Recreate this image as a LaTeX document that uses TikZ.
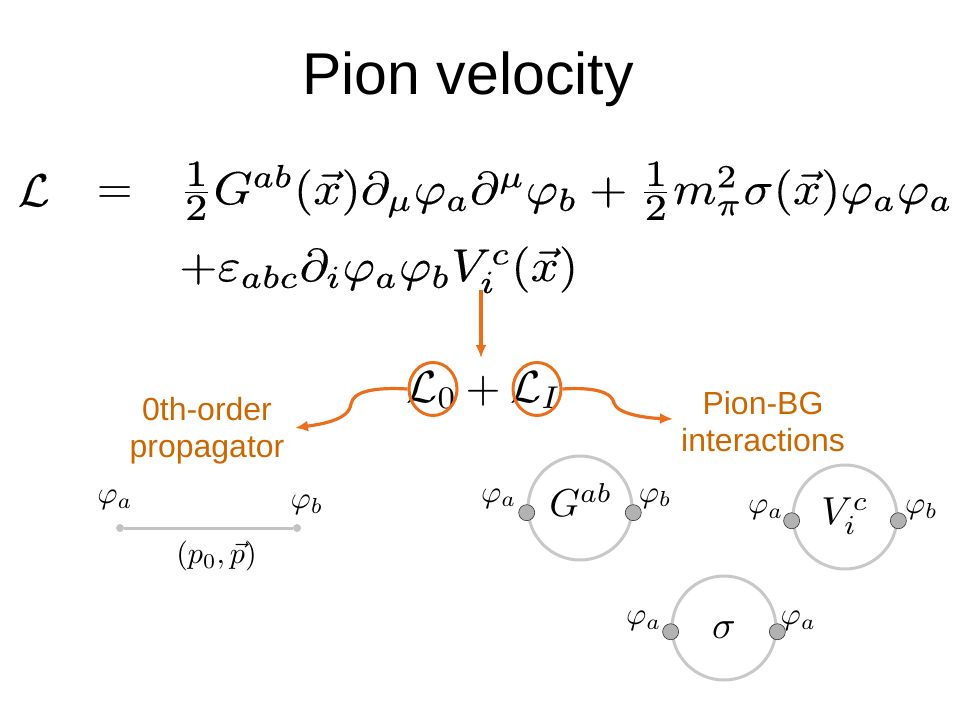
\documentclass[tikz,border=0pt]{standalone}
\usepackage{fontspec}
\newfontfamily\arial{Liberation Sans}
\usetikzlibrary{arrows.meta,shapes.geometric,calc}
\definecolor{arrorange}{RGB}{234,110,28}
\definecolor{txtorange}{RGB}{204,102,0}
\definecolor{ringgray}{RGB}{200,200,200}
\definecolor{dotgray}{RGB}{178,178,178}
\definecolor{linegray}{RGB}{195,195,195}
\newcommand{\myhalf}{\frac{\scalebox{1.15}{$\scriptstyle 1$}}{\scalebox{1.15}{$\scriptstyle 2$}}}
\newcommand{\heavyon}{\special{pdf:literal direct 0.025 w 2 Tr}}
\newcommand{\heavyoff}{\special{pdf:literal direct 0 Tr}}
\tikzset{
  title/.style={inner sep=0, font=\arial\fontsize{59}{70}\selectfont},
  olabel/.style={inner sep=0, align=center, text=txtorange, font=\arial\fontsize{32}{37}\selectfont},
  eqn/.style={inner sep=0, anchor=base west, scale=4.6},
  bigm/.style={inner sep=0, scale=4.5},
  oarrow/.style={draw=arrorange, line width=3.2pt, -{Latex[length=13pt,width=11pt]}},
  oring/.style={ellipse, draw=arrorange, line width=3pt, minimum width=48pt, minimum height=53pt, inner sep=0},
  ring/.style={circle, draw=ringgray, line width=3pt, minimum size=104pt, inner sep=0},
  ringtxt/.style={inner sep=0, scale=3.9},
  vdot/.style={circle, fill=dotgray, draw=black!80, line width=0.6pt, minimum size=16pt, inner sep=0},
  pdot/.style={circle, fill=linegray, minimum size=8pt, inner sep=0},
  phil/.style={inner sep=0, scale=3.1},
}
\begin{document}
\begin{tikzpicture}[x=1pt,y=-1pt]
\useasboundingbox (0,0) rectangle (960,720);
% title
\node[title, anchor=base] (ttl) at (468,94) {Pion velocity};
% equation
\node[eqn] (eqL) at (17,206) {\heavyon$\mathcal{L}$\heavyoff};
\node[eqn] (eqeq) at (96,203) {$=$};
\node[eqn, xscale=1.077] (eq1) at (178,204) {\heavyon$\myhalf G^{ab}(\vec{x})\partial_\mu\varphi_a\partial^\mu\varphi_b+\myhalf m_\pi^2\sigma(\vec{x})\varphi_a\varphi_a$\heavyoff};
\node[eqn, xscale=1.077] (eq2) at (178,281) {\heavyon$+\varepsilon_{abc}\partial_i\varphi_a\varphi_bV_i^c(\vec{x})$\heavyoff};
% L0 + LI
\node[bigm, anchor=base] (L0) at (432,402) {$\mathcal{L}_0$};
\node[bigm, anchor=base] (plus) at (483,402) {$+$};
\node[bigm, anchor=base] (LI) at (536,402) {$\mathcal{L}_I$};
\node[oring] (e0) at (433,389) {};
\node[oring] (e1) at (537,389) {};
% arrows
\coordinate (vtop) at (481,290);
\coordinate (vbot) at (481,358);
\draw[oarrow] (vtop) -- (vbot);
\node[olabel] (prop) at (207,431) {0th-order\\propagator};
\node[olabel] (inter) at (763,422) {Pion-BG\\interactions};
\coordinate (lt) at (295,428);
\coordinate (rt) at (673,419);
\draw[oarrow] (e0.west) .. controls (372,387) and (353,392) .. (351,404) .. controls (349,420) and (322,424) .. (lt);
\draw[oarrow] (e1.east) .. controls (594,387) and (612,392) .. (614,403) .. controls (617,414) and (646,418) .. (rt);
% propagator
\node[pdot] (pa) at (120,528) {};
\node[pdot] (pb) at (297,528) {};
\draw[linegray, line width=3pt] (pa) -- (pb);
\node[phil] (pal) at (115,500) {$\varphi_a$};
\node[phil] (pbl) at (307,505) {$\varphi_b$};
\node[phil, scale=0.97] (mom) at (216.5,556) {$(p_0,\vec{p})$};
% G circle
\node[ring] (cG) at (580,508) {};
\node[ringtxt] (tG) at ($(cG)+(1,-8)$) {$G^{ab}$};
\node[vdot] (gL) at (cG.185) {};
\node[vdot] (gR) at (cG.-5) {};
\node[phil] (gLl) at ($(gL)+(-28,-14)$) {$\varphi_a$};
\node[phil] (gRl) at ($(gR)+(22,-14)$) {$\varphi_b$};
% V circle
\node[ring] (cV) at (845,517) {};
\node[ringtxt] (tV) at ($(cV)+(0,-1)$) {$V_i^c$};
\node[vdot] (vL) at (cV.184) {};
\node[vdot] (vR) at (cV.-4) {};
\node[phil] (vLl) at ($(vL)+(-26,-11)$) {$\varphi_a$};
\node[phil] (vRl) at ($(vR)+(23,-11)$) {$\varphi_b$};
% sigma circle
\node[ring] (cS) at (724,628) {};
\node[ringtxt] (tS) at ($(cS)+(0,2)$) {$\sigma$};
\node[vdot] (sL) at (cS.184) {};
\node[vdot] (sR) at (cS.-4) {};
\node[phil] (sLl) at ($(sL)+(-27,-11)$) {$\varphi_a$};
\node[phil] (sRl) at ($(sR)+(21,-11)$) {$\varphi_a$};
\end{tikzpicture}
\end{document}
